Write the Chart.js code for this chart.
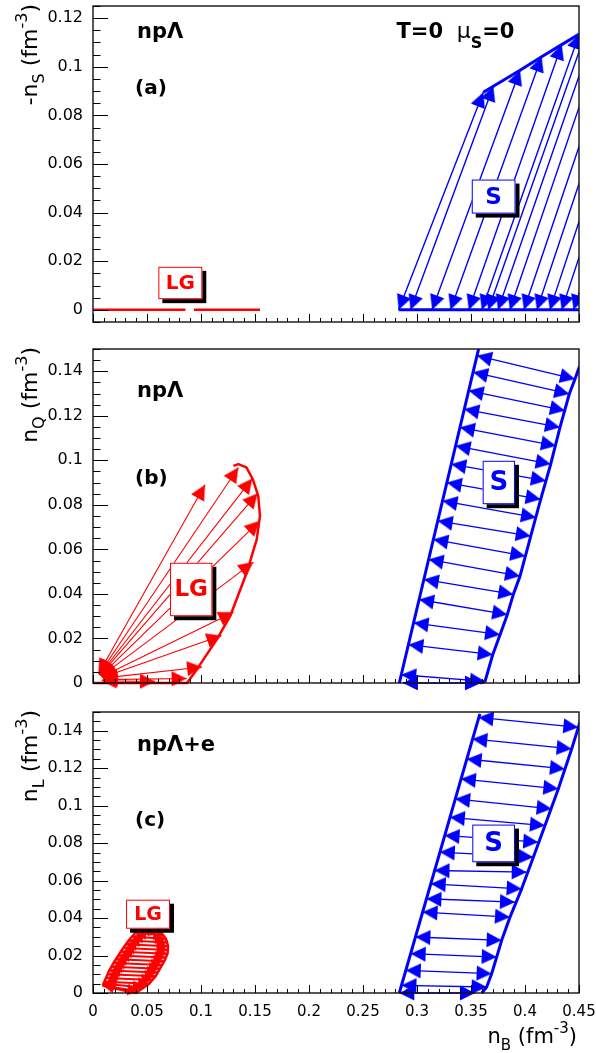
<!DOCTYPE html>
<html>
<head>
<meta charset="utf-8">
<script src="https://cdn.jsdelivr.net/npm/chart.js@4.4.1/dist/chart.umd.min.js"></script>
<style>
  body { margin: 0; background: #fff; width: 596px; height: 1053px; position: relative; overflow: hidden; }
  canvas { position: absolute; left: 0; }
</style>
</head>
<body>
<canvas id="chartA" width="596" height="330" style="top:0px"></canvas>
<canvas id="chartB" width="596" height="360" style="top:330px"></canvas>
<canvas id="chartC" width="596" height="363" style="top:690px"></canvas>
<script>
// axis ticks (n_B shared by the three panels)
const xTicks = [0, 0.05, 0.1, 0.15, 0.2, 0.25, 0.3, 0.35, 0.4, 0.45];
const xTickLabels = ['0', '0.05', '0.1', '0.15', '0.2', '0.25', '0.3', '0.35', '0.4', '0.45'];
const yTicksA = [0, 0.02, 0.04, 0.06, 0.08, 0.1, 0.12];
const yTickLabelsA = ['0', '0.02', '0.04', '0.06', '0.08', '0.1', '0.12'];
const yTicksBC = [0, 0.02, 0.04, 0.06, 0.08, 0.1, 0.12, 0.14];
const yTickLabelsBC = ['0', '0.02', '0.04', '0.06', '0.08', '0.1', '0.12', '0.14'];

// (a) -n_S vs n_B
const aLgStartX = [0, 0.0935];
const aLgEndX = [0.0856, 0.1546];
const aLgY = [0, 0];
const aSBotX = [0.283, 0.294, 0.314, 0.331, 0.348, 0.360, 0.366, 0.375, 0.386, 0.399, 0.411, 0.423, 0.434, 0.445];
const aSBotY = [0, 0, 0, 0, 0, 0, 0, 0, 0, 0, 0, 0, 0, 0];
const aSTopX = [0.3614, 0.3707, 0.3954, 0.4154, 0.434, 0.4503, 0.457, 0.467, 0.479, 0.494, 0.508, 0.522, 0.535, 0.548];
const aSTopY = [0.0895, 0.092, 0.0986, 0.1041, 0.1091, 0.1135, 0.115, 0.118, 0.121, 0.125, 0.129, 0.133, 0.136, 0.140];
const aSEdgeTopX = [0.3614, 0.3707, 0.3954, 0.4154, 0.434, 0.4503, 0.46];
const aSEdgeTopY = [0.0895, 0.092, 0.0986, 0.1041, 0.1091, 0.1135, 0.116];
const aSEdgeBotX = [0.283, 0.45];
const aSEdgeBotY = [0, 0];

// (b) n_Q vs n_B
const bLgGasX = [0.005, 0.0055, 0.006, 0.0065, 0.007, 0.0075, 0.008, 0.0085, 0.009, 0.009, 0.008];
const bLgGasY = [0.004, 0.0038, 0.0036, 0.0034, 0.0032, 0.003, 0.0028, 0.0025, 0.0022, 0.0015, 0.001];
const bLgLiqX = [0.1037, 0.1346, 0.1475, 0.1525, 0.1543, 0.1485, 0.130, 0.119, 0.101, 0.0867, 0.0574];
const bLgLiqY = [0.089, 0.0968, 0.0918, 0.0852, 0.0728, 0.0543, 0.0318, 0.0213, 0.0072, 0.002, 0.0007];
const bLgEdgeX = [0, 0.087, 0.096, 0.1145, 0.127, 0.1423, 0.1516, 0.1546, 0.153, 0.148, 0.142, 0.1346, 0.13];
const bLgEdgeY = [0, 0, 0.006, 0.0195, 0.030, 0.0495, 0.0645, 0.075, 0.084, 0.0915, 0.0968, 0.0983, 0.0975];
const bSLeftX = [0.3555, 0.3519, 0.3478, 0.3437, 0.3397, 0.3357, 0.3317, 0.3276, 0.3236, 0.3192, 0.3151, 0.3107, 0.3063, 0.3019, 0.2968, 0.2920, 0.2854, 0.2870];
const bSLeftY = [0.147, 0.1396, 0.1313, 0.123, 0.1148, 0.1065, 0.0983, 0.09, 0.0818, 0.0728, 0.0645, 0.0555, 0.0465, 0.0375, 0.027, 0.0172, 0.0037, 0];
const bSRightX = [0.4463, 0.4410, 0.4370, 0.4324, 0.4287, 0.4238, 0.4194, 0.4145, 0.4102, 0.4053, 0.4003, 0.3954, 0.3892, 0.3836, 0.3769, 0.3701, 0.3630, 0.3583];
const bSRightY = [0.1365, 0.1298, 0.1223, 0.1148, 0.1065, 0.0983, 0.0908, 0.0825, 0.0743, 0.066, 0.057, 0.048, 0.0398, 0.0307, 0.0217, 0.0127, 0.0007, 0];
const bSEdgeLeftX = [0.2836, 0.3580];
const bSEdgeLeftY = [0, 0.152];
const bSEdgeRightX = [0.3583, 0.3630, 0.3701, 0.3769, 0.3836, 0.3892, 0.3954, 0.4053, 0.4145, 0.4238, 0.4324, 0.4410, 0.4463, 0.4507, 0.4530];
const bSEdgeRightY = [0, 0.0007, 0.0127, 0.0217, 0.0307, 0.0398, 0.048, 0.066, 0.0825, 0.0983, 0.1148, 0.1298, 0.1365, 0.1425, 0.147];

// (c) n_L vs n_B
const cLgGasX = [0.009, 0.010, 0.011, 0.012, 0.0135, 0.015, 0.017, 0.019, 0.021, 0.0235, 0.026, 0.028, 0.030, 0.033, 0.036, 0.039, 0.042];
const cLgGasY = [0.004, 0.005, 0.006, 0.008, 0.010, 0.012, 0.014, 0.016, 0.018, 0.020, 0.022, 0.024, 0.026, 0.028, 0.030, 0.032, 0.034];
const cLgLiqX = [0.042, 0.047, 0.052, 0.055, 0.058, 0.060, 0.062, 0.064, 0.066, 0.0675, 0.069, 0.0695, 0.0695, 0.069, 0.0675, 0.066, 0.062];
const cLgLiqY = [0.001, 0.003, 0.005, 0.007, 0.009, 0.011, 0.013, 0.015, 0.017, 0.019, 0.021, 0.023, 0.025, 0.027, 0.029, 0.031, 0.033];
const cLgEdgeX = [0.009, 0.020, 0.030, 0.040, 0.042, 0.047, 0.052, 0.058, 0.062, 0.066, 0.069, 0.0695, 0.0675, 0.062, 0.056, 0.050, 0.045, 0.039, 0.033, 0.028, 0.0235, 0.019, 0.015, 0.012, 0.009];
const cLgEdgeY = [0.004, 0.0025, 0.0012, 0, 0.001, 0.003, 0.005, 0.009, 0.013, 0.017, 0.021, 0.025, 0.029, 0.033, 0.0345, 0.0345, 0.034, 0.032, 0.028, 0.024, 0.020, 0.016, 0.012, 0.008, 0.004];
const cSLeftX = [0.3569, 0.3512, 0.3459, 0.3406, 0.3353, 0.3304, 0.3255, 0.3211, 0.3162, 0.3127, 0.3087, 0.3051, 0.2985, 0.2941, 0.2896, 0.2856, 0.2836];
const cSLeftY = [0.1471, 0.1356, 0.1249, 0.1143, 0.1036, 0.0938, 0.0841, 0.0752, 0.0654, 0.0583, 0.0503, 0.0432, 0.0299, 0.021, 0.0121, 0.0041, 0];
const cSRightX = [0.4494, 0.4432, 0.4370, 0.4309, 0.4247, 0.4185, 0.4123, 0.4077, 0.4016, 0.3969, 0.3907, 0.3861, 0.3784, 0.3738, 0.3691, 0.3645, 0.3537];
const cSRightY = [0.1418, 0.1303, 0.1196, 0.109, 0.0983, 0.0894, 0.0805, 0.0725, 0.0645, 0.0556, 0.0485, 0.0405, 0.0281, 0.0192, 0.0103, 0.0032, 0];
const cSEdgeLeftX = [0.2836, 0.3582];
const cSEdgeLeftY = [0, 0.149];
const cSEdgeRightX = [0.3600, 0.3645, 0.3691, 0.3738, 0.3784, 0.3861, 0.3969, 0.4077, 0.4185, 0.4309, 0.4432, 0.4494, 0.4520];
const cSEdgeRightY = [0, 0.0032, 0.0103, 0.0192, 0.0281, 0.0405, 0.0556, 0.0725, 0.0894, 0.109, 0.1303, 0.1418, 0.147];

const FONT = '"DejaVu Sans", sans-serif';
const RED = '#ff0000';
const BLUE = '#0000ff';
const CLIP = { left: 10, top: 0, right: 0, bottom: 10 };

function pts(xs, ys) {
    return xs.map((x, i) => ({ x: x, y: ys[i] }));
}

// start/end pairs separated by gaps, so one dataset holds many arrows
function pairs(x0, y0, x1, y1) {
    const out = [];
    x0.forEach((_, i) => {
        out.push({ x: x0[i], y: y0[i] }, { x: x1[i], y: y1[i] }, { x: null, y: null });
    });
    return out;
}

// arrow head: tip in the middle of the image, pointing up
function makeHead(color, len, half) {
    const c = document.createElement('canvas');
    const s = Math.ceil(len) * 2 + 2;
    c.width = s;
    c.height = s;
    const g = c.getContext('2d');
    const m = s / 2;
    g.fillStyle = color;
    g.beginPath();
    g.moveTo(m, m);
    g.lineTo(m - half, m + len);
    g.lineTo(m + half, m + len);
    g.closePath();
    g.fill();
    return c;
}

const headRed = makeHead(RED, 15, 7.5);
const headBlue = makeHead(BLUE, 15, 7.5);
const headSmall = makeHead(RED, 11, 6);

function headAngle(ctx) {
    const d = ctx.dataset.data;
    const i = ctx.dataIndex;
    const p = d[i];
    const q = d[i % 3 === 0 ? i + 1 : i - 1];
    if (!p || p.x === null || !q || q.x === null) return 0;
    const xs = ctx.chart.scales.x;
    const ys = ctx.chart.scales.y;
    const dx = xs.getPixelForValue(p.x) - xs.getPixelForValue(q.x);
    const dy = ys.getPixelForValue(p.y) - ys.getPixelForValue(q.y);
    return Math.atan2(dx, -dy) * 180 / Math.PI;
}

function edge(data, color, width) {
    return { data: data, showLine: true, borderColor: color, borderWidth: width, pointRadius: 0, clip: CLIP };
}

function arrows(data, color, width, head) {
    return {
        data: data, showLine: true, borderColor: color, borderWidth: width,
        pointStyle: head, pointRadius: 6, pointBorderWidth: 0, pointRotation: headAngle, clip: CLIP
    };
}

function fontOf(p) {
    return (p.b ? 'bold ' : '') + p.s + 'px ' + FONT;
}

function drawRich(ctx, parts, x, y, align) {
    let w = 0;
    parts.forEach(p => { ctx.font = fontOf(p); w += ctx.measureText(p.t).width; });
    let cx = align === 'right' ? x - w : x;
    ctx.textAlign = 'left';
    ctx.textBaseline = 'alphabetic';
    parts.forEach(p => {
        ctx.font = fontOf(p);
        ctx.fillText(p.t, cx, y + (p.dy || 0));
        cx += ctx.measureText(p.t).width;
    });
}

function decor(cfg) {
    return {
        id: 'decor',
        afterDatasetsDraw(chart) {
            const ctx = chart.ctx;
            const a = chart.chartArea;
            const xs = chart.scales.x;
            const ys = chart.scales.y;
            ctx.save();

            // label boxes with shadow
            cfg.boxes.forEach(b => {
                const l = xs.getPixelForValue(b.x0), r = xs.getPixelForValue(b.x1);
                const t = ys.getPixelForValue(b.y1), bt = ys.getPixelForValue(b.y0);
                ctx.fillStyle = '#000';
                ctx.fillRect(l + 4, t + 4, r - l, bt - t);
                ctx.fillStyle = '#fff';
                ctx.fillRect(l, t, r - l, bt - t);
                ctx.strokeStyle = b.color;
                ctx.lineWidth = 1;
                ctx.strokeRect(l + 0.5, t + 0.5, r - l - 1, bt - t - 1);
                ctx.fillStyle = b.color;
                ctx.font = 'bold ' + b.size + 'px ' + FONT;
                ctx.textAlign = 'center';
                ctx.textBaseline = 'middle';
                ctx.fillText(b.text, (l + r) / 2, (t + bt) / 2 + 1);
            });

            ctx.fillStyle = '#000';
            cfg.texts.forEach(t => drawRich(ctx, t.parts, xs.getPixelForValue(t.x), ys.getPixelForValue(t.y), 'left'));

            // frame
            ctx.strokeStyle = '#111';
            ctx.lineWidth = 1.4;
            ctx.strokeRect(a.left, a.top, a.right - a.left, a.bottom - a.top);

            // ticks inside the frame, left and bottom only
            ctx.lineWidth = 1;
            ctx.strokeStyle = '#000';
            ctx.beginPath();
            for (let k = 0; k <= 45; k++) {
                const px = Math.round(xs.getPixelForValue(k / 100)) + 0.5;
                const len = k % 5 === 0 ? 8 : 4;
                ctx.moveTo(px, a.bottom);
                ctx.lineTo(px, a.bottom - len);
            }
            for (let k = Math.ceil(cfg.yMin / 0.005 - 1e-6); k * 0.005 <= cfg.yMax + 1e-9; k++) {
                const py = Math.round(ys.getPixelForValue(k * 0.005)) + 0.5;
                const len = k % 4 === 0 ? 15 : 7.5;
                ctx.moveTo(a.left, py);
                ctx.lineTo(a.left + len, py);
            }
            ctx.stroke();

            // y title, rotated
            ctx.save();
            ctx.translate(37, a.top - 2);
            ctx.rotate(-Math.PI / 2);
            drawRich(ctx, cfg.yTitle, 0, 0, 'right');
            ctx.restore();

            if (cfg.xTitle) drawRich(ctx, cfg.xTitle, a.right - 2, a.bottom + 50, 'right');
            ctx.restore();
        }
    };
}

function makeChart(id, cfg) {
    return new Chart(document.getElementById(id), {
        type: 'scatter',
        data: { datasets: cfg.datasets },
        options: {
            responsive: false,
            animation: false,
            devicePixelRatio: 1,
            events: [],
            layout: { padding: { left: 0, right: 17, top: cfg.top, bottom: 0 } },
            elements: { line: { tension: 0, borderJoinStyle: 'round' } },
            plugins: { legend: { display: false }, tooltip: { enabled: false } },
            scales: {
                x: {
                    type: 'linear', min: 0, max: 0.45,
                    grid: { display: false }, border: { display: false },
                    ticks: {
                        display: cfg.showX, autoSkip: false, maxRotation: 0, padding: 2, color: '#000',
                        font: { family: FONT, size: 15 },
                        callback: (v, i) => xTickLabels[i]
                    },
                    afterBuildTicks: s => { s.ticks = xTicks.map(v => ({ value: v })); },
                    afterFit: s => { s.height = cfg.xHeight; s.paddingLeft = 0; s.paddingRight = 0; }
                },
                y: {
                    type: 'linear', min: cfg.yMin, max: cfg.yMax,
                    grid: { display: false }, border: { display: false },
                    ticks: {
                        padding: 2, color: '#000', font: { family: FONT, size: 16 },
                        callback: (v, i) => cfg.yLabels[i]
                    },
                    afterBuildTicks: s => { s.ticks = cfg.yTicks.map(v => ({ value: v })); },
                    afterFit: s => { s.width = 93; s.paddingTop = 0; s.paddingBottom = 0; }
                }
            }
        },
        plugins: [decor(cfg)]
    });
}

const titleParts = (sub, big, small) => [
    { t: sub[0], s: big }, { t: sub[1], s: small, dy: 7 }, { t: ' (fm', s: big }, { t: '-3', s: small, dy: -10 }, { t: ')', s: big }
];

makeChart('chartA', {
    top: 5, xHeight: 8, showX: false,
    yMin: -0.005, yMax: 0.125, yTicks: yTicksA, yLabels: yTickLabelsA,
    yTitle: titleParts(['-n', 'S'], 22, 16),
    texts: [
        { x: 0.0407, y: 0.1118, parts: [{ t: 'npΛ', s: 21, b: true }] },
        { x: 0.039, y: 0.0888, parts: [{ t: '(a)', s: 20, b: true }] },
        { x: 0.281, y: 0.1118, parts: [{ t: 'T=0', s: 21, b: true }] },
        { x: 0.3368, y: 0.1118, parts: [{ t: 'μ', s: 22 }, { t: 'S', s: 16, b: true, dy: 10 }, { t: '=0', s: 21, b: true }] }
    ],
    boxes: [
        { x0: 0.0605, x1: 0.1012, y0: 0.0044, y1: 0.0177, color: RED, text: 'LG', size: 20 },
        { x0: 0.3507, x1: 0.3912, y0: 0.0396, y1: 0.0536, color: BLUE, text: 'S', size: 23 }
    ],
    datasets: [
        edge(pairs(aLgStartX, aLgY, aLgEndX, aLgY), RED, 2.5),
        edge(pts(aSEdgeTopX, aSEdgeTopY), BLUE, 3),
        edge(pts(aSEdgeBotX, aSEdgeBotY), BLUE, 3),
        arrows(pairs(aSBotX, aSBotY, aSTopX, aSTopY), BLUE, 1.4, headBlue)
    ]
});

makeChart('chartB', {
    top: 19, xHeight: 7, showX: false,
    yMin: 0, yMax: 0.15, yTicks: yTicksBC, yLabels: yTickLabelsBC,
    yTitle: titleParts(['n', 'Q'], 22, 16),
    texts: [
        { x: 0.0407, y: 0.1284, parts: [{ t: 'npΛ', s: 21, b: true }] },
        { x: 0.039, y: 0.0893, parts: [{ t: '(b)', s: 20, b: true }] }
    ],
    boxes: [
        { x0: 0.0713, x1: 0.1105, y0: 0.030, y1: 0.054, color: RED, text: 'LG', size: 23 },
        { x0: 0.3608, x1: 0.3907, y0: 0.0803, y1: 0.0998, color: BLUE, text: 'S', size: 26 }
    ],
    datasets: [
        edge(pts(bLgEdgeX, bLgEdgeY), RED, 2.5),
        edge(pts(bSEdgeLeftX, bSEdgeLeftY), BLUE, 3),
        edge(pts(bSEdgeRightX, bSEdgeRightY), BLUE, 3),
        arrows(pairs(bLgGasX, bLgGasY, bLgLiqX, bLgLiqY), RED, 1.1, headRed),
        arrows(pairs(bSLeftX, bSLeftY, bSRightX, bSRightY), BLUE, 1.3, headBlue)
    ]
});

makeChart('chartC', {
    top: 22, xHeight: 60, showX: true,
    yMin: 0, yMax: 0.15, yTicks: yTicksBC, yLabels: yTickLabelsBC,
    yTitle: titleParts(['n', 'L'], 22, 16),
    xTitle: titleParts(['n', 'B'], 21, 15),
    texts: [
        { x: 0.0407, y: 0.1294, parts: [{ t: 'npΛ+e', s: 21, b: true }] },
        { x: 0.039, y: 0.0894, parts: [{ t: '(c)', s: 20, b: true }] }
    ],
    boxes: [
        { x0: 0.0306, x1: 0.0713, y0: 0.0343, y1: 0.0498, color: RED, text: 'LG', size: 19 },
        { x0: 0.3512, x1: 0.3907, y0: 0.0698, y1: 0.0899, color: BLUE, text: 'S', size: 26 }
    ],
    datasets: [
        edge(pts(cLgEdgeX, cLgEdgeY), RED, 2.5),
        edge(pts(cSEdgeLeftX, cSEdgeLeftY), BLUE, 3),
        edge(pts(cSEdgeRightX, cSEdgeRightY), BLUE, 3),
        arrows(pairs(cLgGasX, cLgGasY, cLgLiqX, cLgLiqY), RED, 2, headSmall),
        arrows(pairs(cSLeftX, cSLeftY, cSRightX, cSRightY), BLUE, 1.3, headBlue)
    ]
});
</script>
</body>
</html>
